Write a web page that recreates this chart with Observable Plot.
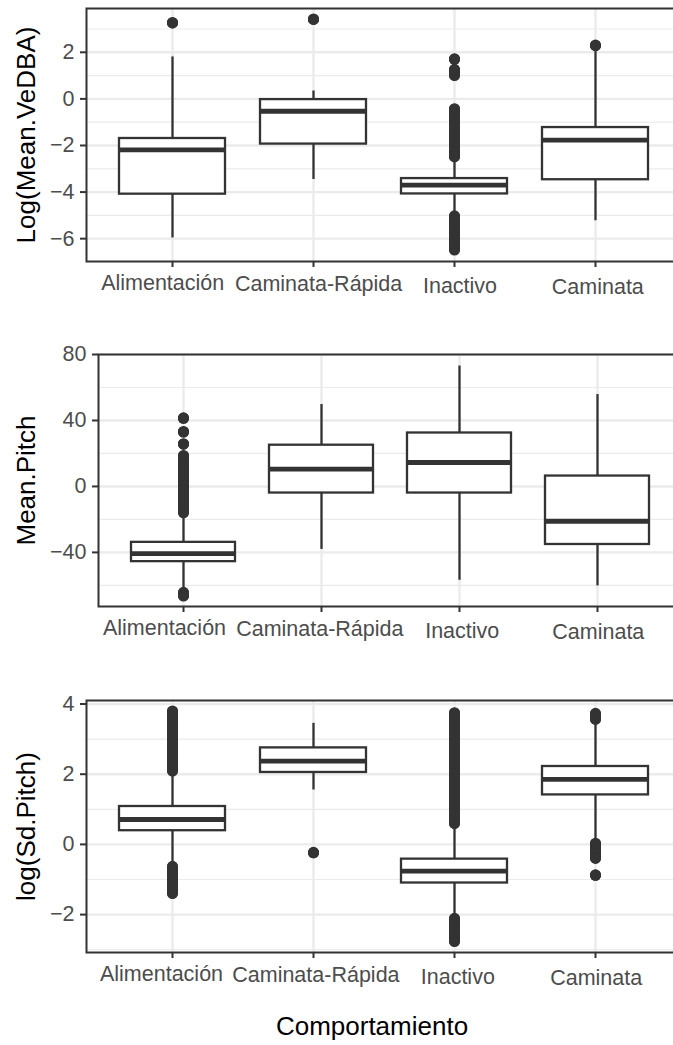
<!DOCTYPE html>
<html><head><meta charset="utf-8">
<script src="https://cdn.jsdelivr.net/npm/d3@7"></script>
<script src="https://cdn.jsdelivr.net/npm/@observablehq/plot@0.6"></script>
<style>
body{margin:0;background:#fff;}
#wrap{width:673px;height:1045px;overflow:hidden;background:#fff;}
#wrap svg{display:block;}
</style></head><body><div id="wrap"></div>
<script>
const categories = ["Alimentación", "Caminata-Rápida", "Inactivo", "Caminata"];

// Panel 1: Log(Mean.VeDBA)
const vedbaQ1 = [-4.09, -1.94, -4.08, -3.47];
const vedbaMedian = [-2.19, -0.53, -3.70, -1.77];
const vedbaQ3 = [-1.70, -0.03, -3.42, -1.23];
const vedbaLow = [-5.97, -3.46, -5.0, -5.23];
const vedbaHigh = [1.80, 0.34, -2.55, 2.08];
const vedbaOutCat = ["Alimentación", "Caminata-Rápida", "Inactivo", "Inactivo", "Inactivo", "Inactivo", "Caminata"];
const vedbaOutLow = [3.26, 3.41, 1.70, 1.00, -2.49, -6.49, 2.29];
const vedbaOutHigh = [3.26, 3.41, 1.70, 1.25, -0.44, -5.04, 2.29];
const vedbaTicks = [-6, -4, -2, 0, 2];
const vedbaMinor = [-5, -3, -1, 1, 3];

// Panel 2: Mean.Pitch
const pitchQ1 = [-45.6, -4.0, -4.0, -35.2];
const pitchMedian = [-40.7, 10.5, 14.5, -21.1];
const pitchQ3 = [-33.9, 25.0, 32.4, 6.3];
const pitchLow = [-62.0, -38.2, -56.9, -60.3];
const pitchHigh = [-17.0, 49.7, 73.0, 55.7];
const pitchOutCat = ["Alimentación", "Alimentación", "Alimentación", "Alimentación", "Alimentación"];
const pitchOutLow = [41.3, 33.0, 25.6, -16.0, -66.5];
const pitchOutHigh = [41.3, 33.0, 25.6, 18.5, -64.5];
const pitchTicks = [-40, 0, 40, 80];
const pitchMinor = [-60, -20, 20, 60];

// Panel 3: log(Sd.Pitch)
const sdQ1 = [0.39, 2.05, -1.10, 1.41];
const sdMedian = [0.71, 2.37, -0.76, 1.85];
const sdQ3 = [1.08, 2.75, -0.42, 2.22];
const sdLow = [-0.55, 1.55, -2.05, 0.14];
const sdHigh = [2.0, 3.45, 0.55, 3.42];
const sdOutCat = ["Alimentación", "Alimentación", "Caminata-Rápida", "Inactivo", "Inactivo", "Caminata", "Caminata", "Caminata"];
const sdOutLow = [2.09, -1.40, -0.24, 0.59, -2.77, 3.56, -0.40, -0.88];
const sdOutHigh = [3.79, -0.64, -0.24, 3.74, -2.12, 3.72, 0.02, -0.88];
const sdTicks = [-2, 0, 2, 4];
const sdMinor = [-3, -1, 1, 3];

const INK = "#333333";
const GRID = "#ebebeb";
const labelShiftY = [0, 1, 2.5, 4];

function panel(o) {
  const boxes = categories.map((c, i) => ({c, q1: o.q1[i], med: o.med[i], q3: o.q3[i], lo: o.lo[i], hi: o.hi[i]}));
  const outs = o.oCat.map((c, i) => ({c, lo: o.oLo[i], hi: o.oHi[i]}));
  return Plot.plot({
    width: 700, height: o.height,
    marginTop: o.mt, marginBottom: o.mb, marginLeft: o.ml, marginRight: 19,
    style: {fontFamily: "'Liberation Sans', Arial, sans-serif", background: "#fff", maxWidth: "none", overflow: "visible"},
    x: {domain: categories, paddingInner: 0.25, paddingOuter: 0.225},
    y: {domain: o.domain},
    marks: [
      Plot.gridY(o.minor, {stroke: GRID, strokeOpacity: 1, strokeWidth: 1.2}),
      Plot.gridY(o.ticks, {stroke: GRID, strokeOpacity: 1, strokeWidth: 2.4}),
      Plot.gridX(categories, {stroke: GRID, strokeOpacity: 1, strokeWidth: 2.4}),
      Plot.ruleX(outs, {x: "c", y1: "lo", y2: "hi", stroke: INK, strokeWidth: 11, strokeLinecap: "round"}),
      Plot.dot(outs, {x: "c", y: "lo", r: 5.5, fill: INK}),
      Plot.dot(outs, {x: "c", y: "hi", r: 5.5, fill: INK}),
      Plot.ruleX(boxes, {x: "c", y1: "lo", y2: "hi", stroke: INK, strokeWidth: 2.3}),
      Plot.barY(boxes, {x: "c", y1: "q1", y2: "q3", fill: "#fff", stroke: INK, strokeWidth: 2.3}),
      Plot.tickY(boxes, {x: "c", y: "med", stroke: INK, strokeWidth: 4.8}),
      Plot.frame({stroke: INK, strokeWidth: 2}),
      Plot.axisY(o.ticks, {tickSize: 6, tickPadding: 6, fontSize: 21.5, fill: "#4d4d4d", stroke: INK, strokeWidth: 2, label: null}),
      Plot.axisX({tickSize: 6, tickFormat: () => "", stroke: INK, strokeWidth: 2, label: null}),
      ...categories.map((c, i) => Plot.text([c], {x: d => d, frameAnchor: "bottom", dx: o.labelDx[i], dy: 28.5 + labelShiftY[i], fontSize: 21.5, fill: "#4d4d4d"})),
      Plot.text([o.title], {frameAnchor: "left", textAnchor: "middle", rotate: -90, dx: o.titleDx, fontSize: 26, fill: "#000"}),
      ...(o.extra || [])
    ]
  });
}

const wrap = document.getElementById("wrap");
wrap.appendChild(panel({
  q1: vedbaQ1, med: vedbaMedian, q3: vedbaQ3, lo: vedbaLow, hi: vedbaHigh,
  oCat: vedbaOutCat, oLo: vedbaOutLow, oHi: vedbaOutHigh,
  ticks: vedbaTicks, minor: vedbaMinor, domain: [-6.98, 3.88],
  title: "Log(Mean.VeDBA)", height: 320, mt: 8, mb: 59, ml: 86, titleDx: -60.3,
  labelDx: [-9.8, 5.1, 5.5, 2.3]
}));
wrap.appendChild(panel({
  q1: pitchQ1, med: pitchMedian, q3: pitchQ3, lo: pitchLow, hi: pitchHigh,
  oCat: pitchOutCat, oLo: pitchOutLow, oHi: pitchOutHigh,
  ticks: pitchTicks, minor: pitchMinor, domain: [-72.8, 80.0],
  title: "Mean.Pitch", height: 340, mt: 34, mb: 54, ml: 98, titleDx: -72,
  labelDx: [-19, -1.7, 2.7, 0.8]
}));
wrap.appendChild(panel({
  q1: sdQ1, med: sdMedian, q3: sdQ3, lo: sdLow, hi: sdHigh,
  oCat: sdOutCat, oLo: sdOutLow, oHi: sdOutHigh,
  ticks: sdTicks, minor: sdMinor, domain: [-3.08, 4.10],
  title: "log(Sd.Pitch)", height: 385, mt: 40, mb: 93, ml: 86, titleDx: -60.3,
  labelDx: [-11, 2.4, 3.3, 0.7],
  extra: [Plot.text(["Comportamiento"], {frameAnchor: "bottom", dy: 82.5, dx: -12, fontSize: 26, fill: "#000"})]
}));
</script></body></html>
